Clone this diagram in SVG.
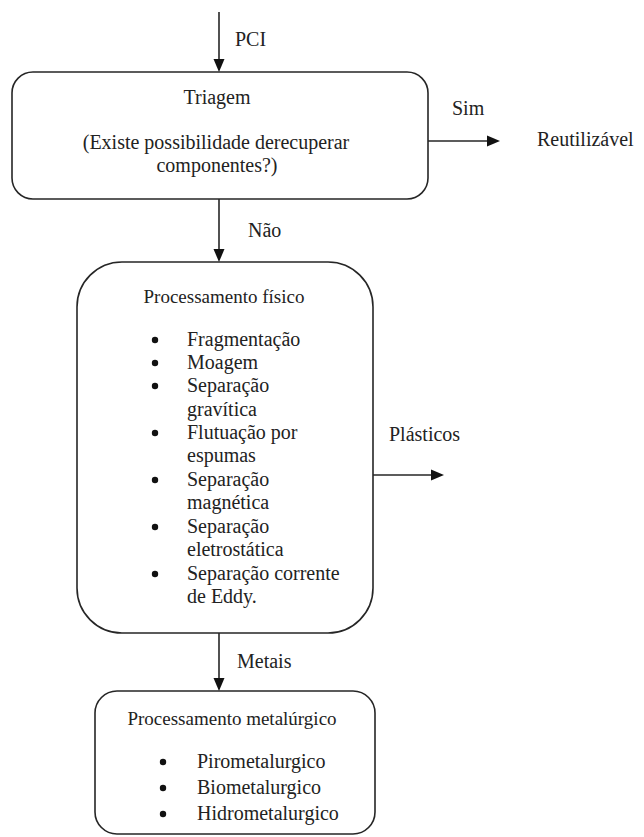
<svg xmlns="http://www.w3.org/2000/svg" width="644" height="837" viewBox="0 0 644 837" font-family="'Liberation Serif', 'DejaVu Serif', 'Times New Roman', Times, serif">
<style>
.box{fill:#fff;stroke:#262626;stroke-width:1.6}
.ln{stroke:#262626;stroke-width:1.6;fill:none}
text{font-family:'Liberation Serif','DejaVu Serif','Times New Roman',Times,serif;font-size:20px;fill:#222}
.t{font-size:19px}
.c{text-anchor:middle}
.b{fill:#111}
</style>
<rect width="644" height="837" fill="#fff"/>
<g id="connectors">
<line class="ln" x1="219" y1="12" x2="219" y2="60"/>
<path d="M213.5,59 L219,72 L224.5,59 z" class="b"/>
<line class="ln" x1="428" y1="141" x2="488" y2="141"/>
<path d="M487,135.5 L500,141 L487,146.5 z" class="b"/>
<line class="ln" x1="219" y1="199" x2="219" y2="250"/>
<path d="M213.5,249 L219,262 L224.5,249 z" class="b"/>
<line class="ln" x1="373" y1="475" x2="432" y2="475"/>
<path d="M431,469.5 L444,475 L431,480.5 z" class="b"/>
<line class="ln" x1="219" y1="633" x2="219" y2="679"/>
<path d="M213.5,678 L219,691 L224.5,678 z" class="b"/>
<text x="235" y="46">PCI</text>
<text x="452" y="115">Sim</text>
<text x="537" y="146">Reutilizável</text>
<text x="248" y="237">Não</text>
<text x="389" y="441">Plásticos</text>
<text x="237" y="668">Metais</text>
</g>
<g id="triagem">
<rect class="box" x="12" y="72" width="416" height="127" rx="21"/>
<text class="c" x="217" y="104">Triagem</text>
<text class="c" x="216" y="149">(Existe possibilidade derecuperar</text>
<text class="c" x="217" y="172">componentes?)</text>
</g>
<g id="processamento-fisico">
<rect class="box" x="77" y="262" width="296" height="371" rx="45"/>
<text class="c t" x="224" y="303">Processamento físico</text>
<circle class="b" cx="155" cy="340" r="3.2"/>
<circle class="b" cx="155" cy="363" r="3.2"/>
<circle class="b" cx="155" cy="386" r="3.2"/>
<circle class="b" cx="155" cy="433" r="3.2"/>
<circle class="b" cx="155" cy="480" r="3.2"/>
<circle class="b" cx="155" cy="527" r="3.2"/>
<circle class="b" cx="155" cy="574" r="3.2"/>
<text x="187" y="346">Fragmentação</text>
<text x="187" y="369">Moagem</text>
<text x="187" y="392">Separação</text>
<text x="187" y="416">gravítica</text>
<text x="187" y="439">Flutuação por</text>
<text x="187" y="462">espumas</text>
<text x="187" y="486">Separação</text>
<text x="187" y="509">magnética</text>
<text x="187" y="533">Separação</text>
<text x="187" y="556">eletrostática</text>
<text x="187" y="580">Separação corrente</text>
<text x="187" y="603">de Eddy.</text>
</g>
<g id="processamento-metalurgico">
<rect class="box" x="95" y="691" width="280" height="143" rx="22"/>
<text class="c t" x="232" y="725">Processamento metalúrgico</text>
<circle class="b" cx="163" cy="762" r="3.2"/>
<circle class="b" cx="163" cy="788" r="3.2"/>
<circle class="b" cx="163" cy="814" r="3.2"/>
<text x="197" y="768">Pirometalurgico</text>
<text x="197" y="794">Biometalurgico</text>
<text x="197" y="820">Hidrometalurgico</text>
</g>
</svg>
